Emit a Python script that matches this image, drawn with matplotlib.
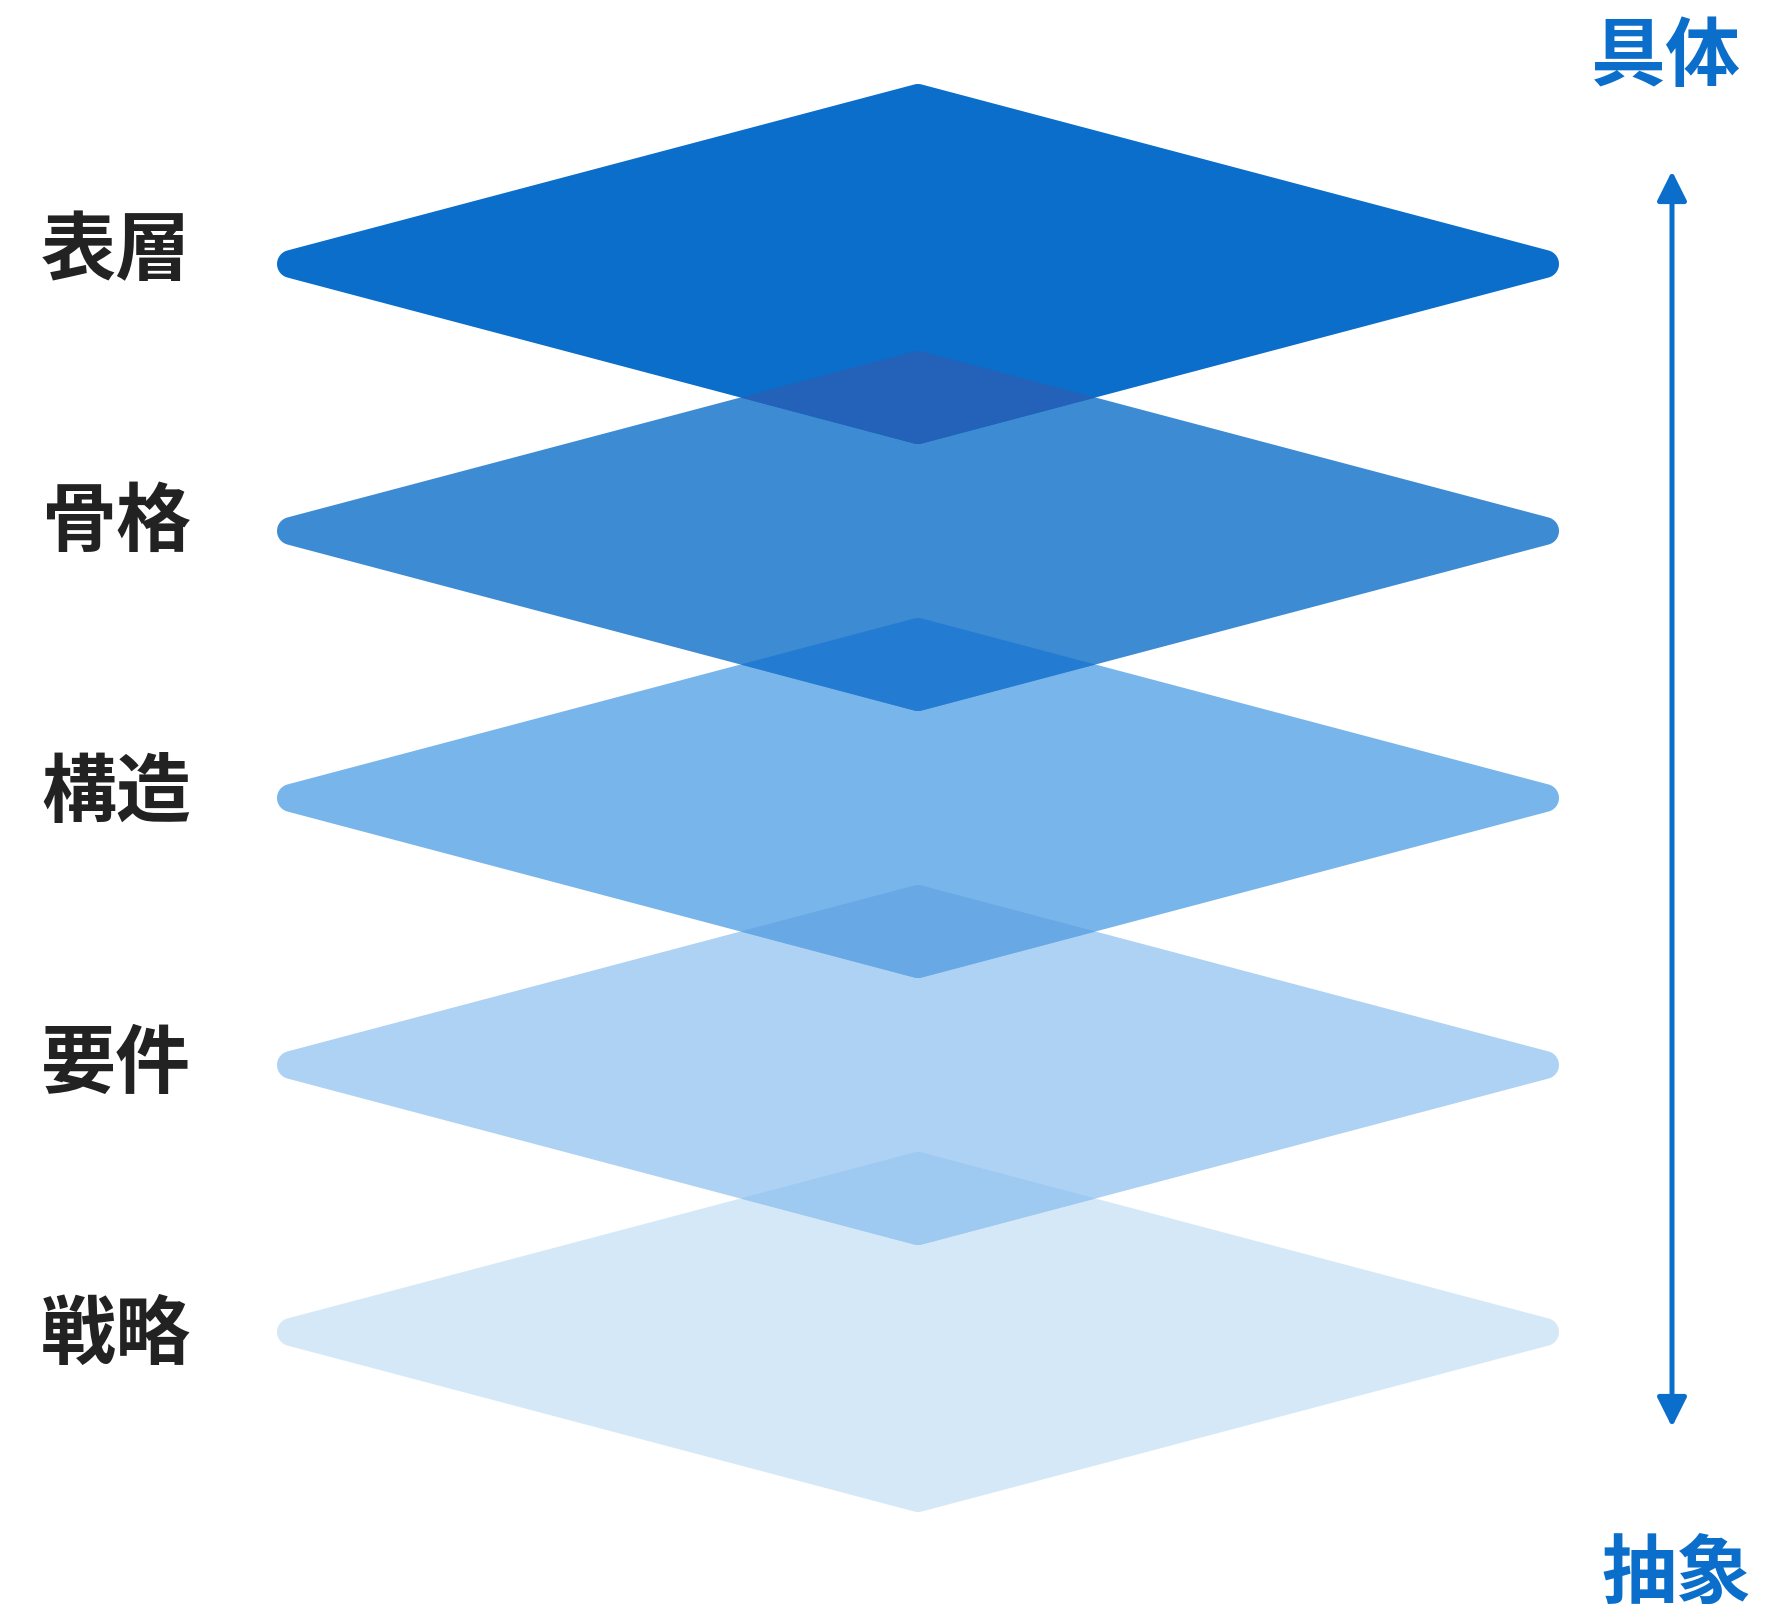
import numpy as np
import matplotlib
matplotlib.use("Agg")
import matplotlib.pyplot as plt
from matplotlib.patches import Polygon

plt.rcParams['font.family'] = ['Noto Sans CJK JP', 'DejaVu Sans']

# ---- data ----
layers = ['表層', '骨格', '構造', '要件', '戦略']
fill_colors = ['#0A6ECA', '#3C8BD3', '#78B5EB', '#ADD2F4', '#D5E8F7']
overlap_colors = ['#2362B8', '#237CD2', '#68A9E5', '#9EC9F1']
axis_labels = ['具体', '抽象']
accent = '#0A6ECA'
label_color = '#222222'

# ---- layout ----
W_PX, H_PX = 1788, 1610
cx = 918
top_center = 264
spacing = 267
label_top = 252
label_spacing = 271
r = 14
half_w = 641 - r
half_h = 180 - r


def rounded_diamond(x0, y0, w, h, rad, n=20):
    verts = np.array([(x0 - w, y0), (x0, y0 - h), (x0 + w, y0), (x0, y0 + h)], float)
    pts = []
    m = len(verts)
    for k in range(m):
        p, v, q = verts[k - 1], verts[k], verts[(k + 1) % m]
        normals = []
        for a, b in ((p, v), (v, q)):
            d = b - a
            nrm = np.array([d[1], -d[0]]) / np.hypot(*d)
            mid = (a + b) / 2
            if np.dot(nrm, mid - np.array([x0, y0])) < 0:
                nrm = -nrm
            normals.append(nrm)
        a0 = np.arctan2(normals[0][1], normals[0][0])
        a1 = np.arctan2(normals[1][1], normals[1][0])
        delta = (a1 - a0 + np.pi) % (2 * np.pi) - np.pi
        for t in np.linspace(0, 1, n):
            ang = a0 + delta * t
            pts.append(v + rad * np.array([np.cos(ang), np.sin(ang)]))
    return np.array(pts)


def clip_convex(subject, clipper):
    area = 0.5 * np.sum(clipper[:, 0] * np.roll(clipper[:, 1], -1) - np.roll(clipper[:, 0], -1) * clipper[:, 1])
    sgn = np.sign(area)
    out = list(subject)
    for i in range(len(clipper)):
        A, B = clipper[i], clipper[(i + 1) % len(clipper)]
        inp = out
        out = []
        if not inp:
            break

        def side(P):
            return (B[0] - A[0]) * (P[1] - A[1]) - (B[1] - A[1]) * (P[0] - A[0])

        for j in range(len(inp)):
            P, Q = inp[j - 1], inp[j]
            sp, sq = sgn * side(P), sgn * side(Q)
            if sq >= 0:
                if sp < 0:
                    t = sp / (sp - sq)
                    out.append(P + t * (Q - P))
                out.append(Q)
            elif sp >= 0:
                t = sp / (sp - sq)
                out.append(P + t * (Q - P))
    return np.array(out)


fig = plt.figure(figsize=(W_PX / 100, H_PX / 100), dpi=100)
ax = fig.add_axes([0, 0, 1, 1])
ax.set_xlim(0, W_PX)
ax.set_ylim(H_PX, 0)
ax.axis('off')

shapes = []
for i in range(len(layers)):
    yc = top_center + i * spacing
    shapes.append(rounded_diamond(cx, yc, half_w, half_h, r))

for i in range(len(layers) - 1, -1, -1):
    ax.add_patch(Polygon(shapes[i], closed=True, facecolor=fill_colors[i],
                         edgecolor='none', zorder=2))

for i, col in enumerate(overlap_colors):
    ov = clip_convex(shapes[i + 1], shapes[i])
    if len(ov) > 2:
        ax.add_patch(Polygon(ov, closed=True, facecolor=col, edgecolor='none', zorder=3))

for i, name in enumerate(layers):
    ax.text(116, label_top + i * label_spacing, name, ha='center', va='center',
            fontsize=54, fontweight='bold', color=label_color, zorder=4)

arrow_x = 1672
ax.annotate('', xy=(arrow_x, 171), xytext=(arrow_x, 1427),
            arrowprops=dict(arrowstyle='<|-|>,head_length=18,head_width=9',
                            mutation_scale=1, lw=3.6, color=accent,
                            shrinkA=0, shrinkB=0), zorder=4)

ax.text(1666, 58, axis_labels[0], ha='center', va='center', fontsize=54,
        fontweight='bold', color=accent)
ax.text(1676, 1575, axis_labels[1], ha='center', va='center', fontsize=54,
        fontweight='bold', color=accent)

fig.savefig('out.png', dpi=100, facecolor='white')
